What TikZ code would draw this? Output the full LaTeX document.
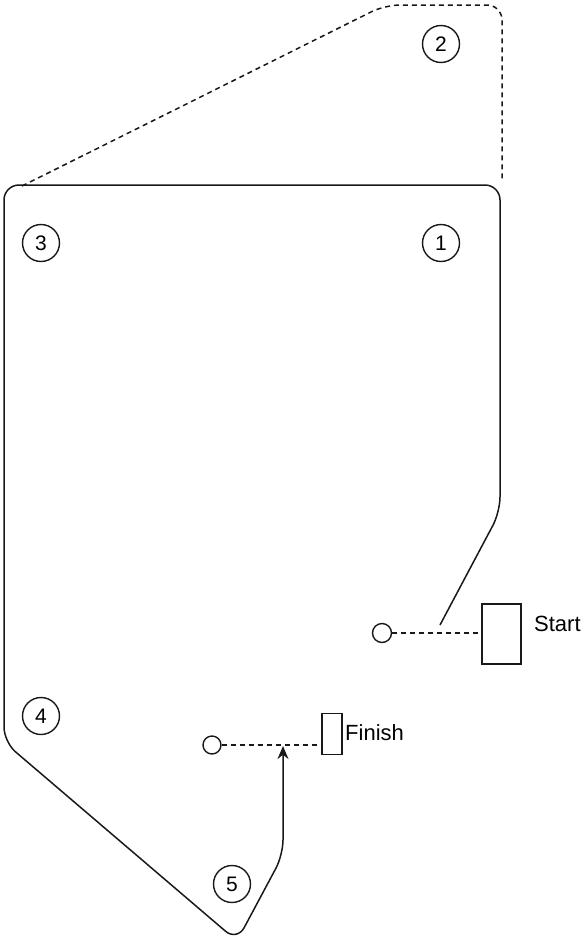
\documentclass[tikz,border=0pt]{standalone}
\usepackage{fontspec}
\setmainfont{Liberation Sans}
\usetikzlibrary{arrows.meta}
\begin{document}
\begin{tikzpicture}[x=1pt,y=-1pt,
  num/.style={circle,draw=black!90,line width=1.4pt,minimum size=37pt,inner sep=0pt,font=\fontsize{21}{21}\selectfont},
  dot/.style={circle,draw=black!90,line width=1.4pt,minimum size=19pt,inner sep=0pt},
  box/.style={draw=black!90,line width=1.4pt,inner sep=0pt},
  lbl/.style={font=\fontsize{22}{22}\selectfont,inner sep=0pt,anchor=west},
  route/.style={line width=1.5pt,draw=black!90,rounded corners=15pt},
  plan/.style={line width=1.5pt,draw=black!90,dash pattern=on 5pt off 4pt,rounded corners=15pt},
  link/.style={line width=1.5pt,draw=black!90,dash pattern=on 5pt off 4pt}]
\useasboundingbox (0,0) rectangle (587,940);
% numbered positions
\node[num] (n1) at (441,243) {1};
\node[num] (n2) at (441,44) {2};
\node[num] (n3) at (41,243) {3};
\node[num] (n4) at (41,716) {4};
\node[num] (n5) at (232,884) {5};
% start
\node[dot] (s0) at (382,633) {};
\node[box,minimum width=39pt,minimum height=60pt] (sbox) at (501.5,634) {};
\node[lbl] (slbl) at (534,624) {Start};
% finish
\node[dot,minimum size=18pt] (f0) at (212,745) {};
\node[box,minimum width=20pt,minimum height=41pt] (fbox) at (332,734) {};
\node[lbl] (flbl) at (345,733) {Finish};
% connectors
\draw[link] (s0) -- (sbox.west |- s0);
\draw[link] (f0) -- (fbox.west |- f0);
% planned route (dashed)
\coordinate (pA) at (22,186);
\coordinate (pB) at (502,182);
\draw[plan] (pA) -- (385,5) -- (502,5) -- (pB);
% driven route
\coordinate (rA) at (440,625);
\coordinate (rB) at (283,746);
\draw[route,-{Stealth[length=13pt,width=11pt]}] (rA) -- (500,512) -- (500,185) -- (4,185) -- (4,742) -- (237,941) -- (283,855) -- (rB);
\end{tikzpicture}
\end{document}
